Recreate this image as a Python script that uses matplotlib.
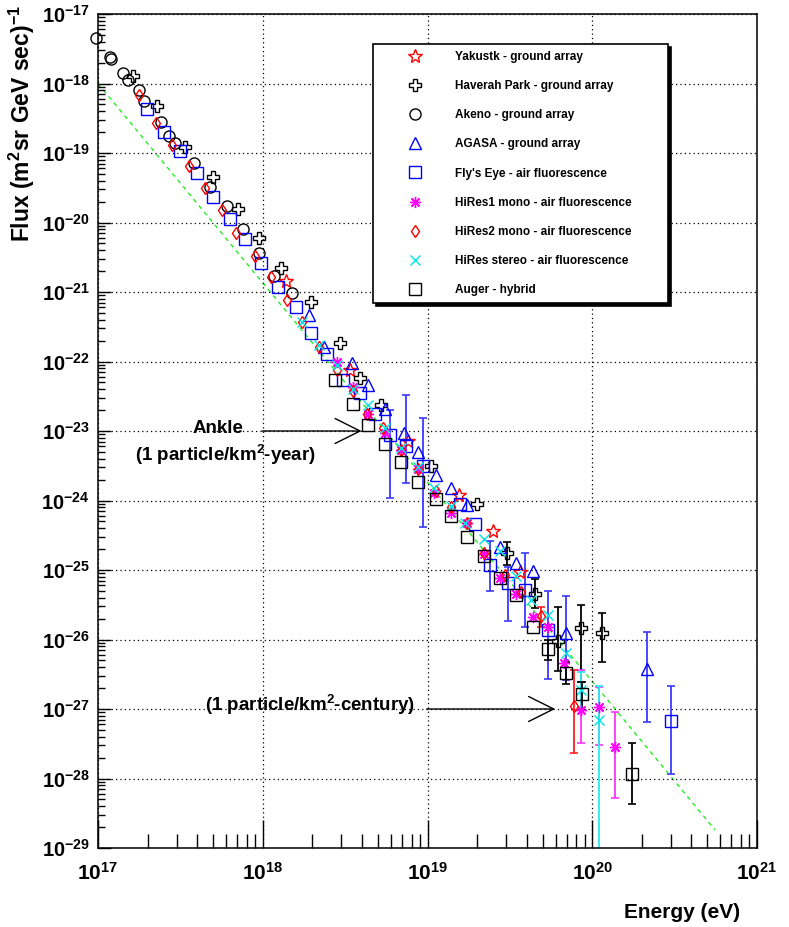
import numpy as np
import matplotlib
matplotlib.use("Agg")
import matplotlib.pyplot as plt
from matplotlib.ticker import LogLocator, NullFormatter, LogFormatterSciNotation

plt.rcParams['font.family'] = ['Liberation Sans', 'DejaVu Sans']
plt.rcParams['font.weight'] = 'bold'
plt.rcParams['mathtext.fontset'] = 'custom'
plt.rcParams['mathtext.bf'] = 'Liberation Sans:bold'
plt.rcParams['mathtext.rm'] = 'Liberation Sans:bold'
plt.rcParams['mathtext.default'] = 'bf'

# values, log10(E / eV) and log10(flux)
yakutsk_logE = [18.14, 18.53, 18.88, 19.19, 19.40, 19.56]
yakutsk_logF = [-20.84, -22.12, -23.14, -23.92, -24.44, -25.03]

haverah_logE = [17.21, 17.36, 17.53, 17.70, 17.85, 17.98, 18.11, 18.29, 18.47, 18.59,
                18.72, 19.02, 19.30, 19.48, 19.65, 19.79, 19.93, 20.06]
haverah_logF = [-17.89, -18.32, -18.91, -19.34, -19.81, -20.22, -20.66, -21.14, -21.74, -22.24,
                -22.63, -23.50, -24.05, -24.75, -25.34, -26.02, -25.84, -25.91]
haverah_hi = [None] * 13 + [-24.59, -25.13, -25.53, -25.50, -25.62]
haverah_lo = [None] * 13 + [-24.93, -25.55, -26.46, -26.61, -26.33]

akeno_logE = [16.99, 17.07, 17.08, 17.15, 17.18, 17.25, 17.28, 17.38, 17.43, 17.47,
              17.58, 17.68, 17.78, 17.88, 17.98, 18.07, 18.18]
akeno_logF = [-17.34, -17.62, -17.65, -17.85, -17.95, -18.10, -18.25, -18.55, -18.76, -18.85,
              -19.14, -19.49, -19.76, -20.09, -20.44, -20.77, -21.02]

agasa_logE = [18.28, 18.37, 18.54, 18.64, 18.74, 18.86, 18.94, 19.05, 19.14, 19.24,
              19.44, 19.54, 19.64, 19.84, 20.33]
agasa_logF = [-21.33, -21.79, -22.02, -22.34, -22.69, -23.03, -23.30, -23.63, -23.82, -24.07,
              -24.67, -24.90, -25.01, -25.91, -26.43]
agasa_hi = [None] * 13 + [-25.38, -25.89]
agasa_lo = [None] * 13 + [-26.58, -27.18]

fly_logE = [17.30, 17.40, 17.50, 17.60, 17.70, 17.80, 17.89, 17.99, 18.09, 18.20,
            18.29, 18.39, 18.49, 18.59, 18.68, 18.77, 18.87, 18.97, 19.20, 19.29,
            19.38, 19.49, 19.59, 19.73, 20.48]
fly_logF = [-18.37, -18.70, -18.97, -19.29, -19.63, -19.95, -20.24, -20.58, -20.93, -21.22,
            -21.59, -21.89, -22.27, -22.46, -22.76, -23.06, -23.22, -23.50, -24.05, -24.34,
            -24.93, -25.19, -25.29, -25.86, -27.17]
fly_hi = [None] * 15 + [-22.70, -22.48, -22.81, None, None, -24.58, -24.95, -24.75, -25.30, -26.67]
fly_lo = [None] * 15 + [-23.96, -23.75, -24.38, None, None, -25.30, -25.74, -25.82, -26.57, -27.94]

hires1_logE = [18.45, 18.55, 18.64, 18.74, 18.84, 18.94, 19.04, 19.14, 19.24, 19.34,
               19.44, 19.54, 19.64, 19.73, 19.83, 19.93, 20.04, 20.14]
hires1_logF = [-22.01, -22.36, -22.75, -23.03, -23.27, -23.55, -23.89, -24.18, -24.33, -24.77,
               -25.12, -25.34, -25.67, -25.82, -26.34, -27.01, -26.97, -27.55]
hires1_hi = [None] * 15 + [-26.44, -26.68, -27.04]
hires1_lo = [None] * 15 + [-27.49, -27.52, -28.28]

hires2_logE = [17.25, 17.35, 17.45, 17.55, 17.65, 17.75, 17.84, 17.95, 18.05, 18.15,
               18.24, 18.34, 18.45, 18.55, 18.63, 18.73, 18.84, 18.94, 19.05, 19.14,
               19.24, 19.34, 19.47, 19.57, 19.69, 19.89]
hires2_logF = [-18.17, -18.57, -18.89, -19.19, -19.51, -19.82, -20.15, -20.48, -20.79, -21.12,
               -21.43, -21.79, -22.12, -22.43, -22.75, -22.96, -23.27, -23.55, -23.87, -24.10,
               -24.33, -24.76, -25.07, -25.32, -25.66, -26.96]
hires2_hi = [None] * 24 + [-25.53, -26.44]
hires2_lo = [None] * 24 + [-25.82, -27.64]

stereo_logE = [18.24, 18.34, 18.45, 18.55, 18.64, 18.74, 18.84, 18.94, 19.04, 19.14,
               19.23, 19.34, 19.44, 19.54, 19.63, 19.73, 19.84, 19.93, 20.04]
stereo_logF = [-21.43, -21.76, -22.05, -22.39, -22.63, -22.96, -23.25, -23.52, -23.82, -24.08,
               -24.32, -24.56, -24.73, -25.09, -25.43, -25.65, -26.19, -26.73, -27.16]
stereo_hi = [None] * 17 + [-26.47, -26.67]
stereo_lo = [None] * 17 + [-27.01, -31.0]

auger_logE = [18.44, 18.55, 18.64, 18.74, 18.84, 18.94, 19.05, 19.14, 19.24, 19.34,
              19.44, 19.54, 19.64, 19.73, 19.84, 19.94, 20.24]
auger_logF = [-22.27, -22.61, -22.91, -23.18, -23.44, -23.73, -23.98, -24.22, -24.52, -24.80,
              -25.12, -25.36, -25.82, -26.14, -26.48, -26.78, -27.94]
auger_hi = [None] * 13 + [-26.01, -26.32, -26.61, -27.49]
auger_lo = [None] * 13 + [-26.29, -26.64, -27.01, -28.36]

# dashed reference line end points
ref_logE = [17.0, 20.745]
ref_logF = [-18.0, -28.74]


def draw_errors(ax, logE, logF, hi, lo, color):
    hi = np.array(hi, dtype=float)
    lo = np.array(lo, dtype=float)
    m = ~np.isnan(hi)
    E = 10 ** np.array(logE)[m]
    F = 10 ** np.array(logF)[m]
    yerr = [F - 10 ** lo[m], 10 ** hi[m] - F]
    ax.errorbar(E, F, yerr=yerr, fmt='none', ecolor=color, elinewidth=1.3,
                capsize=3, capthick=1.2, zorder=2)


fig = plt.figure(figsize=(7.89, 9.27), dpi=100)
ax = fig.add_axes([98 / 789, 1 - 848 / 927, 659 / 789, 834 / 927])

ax.plot(10 ** np.array(ref_logE), 10 ** np.array(ref_logF), color='#22ee22',
        linestyle=(0, (3, 3)), linewidth=1.0, zorder=1)

draw_errors(ax, haverah_logE, haverah_logF, haverah_hi, haverah_lo, 'black')
draw_errors(ax, agasa_logE, agasa_logF, agasa_hi, agasa_lo, '#3a3aff')
draw_errors(ax, fly_logE, fly_logF, fly_hi, fly_lo, '#3a3aff')
draw_errors(ax, hires1_logE, hires1_logF, hires1_hi, hires1_lo, '#ff33ff')
draw_errors(ax, hires2_logE, hires2_logF, hires2_hi, hires2_lo, '#ff2020')
draw_errors(ax, stereo_logE, stereo_logF, stereo_hi, stereo_lo, '#22eeee')
draw_errors(ax, auger_logE, auger_logF, auger_hi, auger_lo, 'black')

series = [
    ("Yakustk - ground array", yakutsk_logE, yakutsk_logF, 'red', '*', 10),
    ("Haverah Park - ground array", haverah_logE, haverah_logF, 'black', 'P', 9),
    ("Akeno - ground array", akeno_logE, akeno_logF, 'black', 'o', 8),
    ("AGASA - ground array", agasa_logE, agasa_logF, 'blue', '^', 9),
    ("Fly's Eye - air fluorescence", fly_logE, fly_logF, 'blue', 's', 9),
    ("HiRes1 mono - air fluorescence", hires1_logE, hires1_logF, '#ff00ff', (8, 2, 0), 8),
    ("HiRes2 mono - air fluorescence", hires2_logE, hires2_logF, 'red', 'd', 6.5),
    ("HiRes stereo - air fluorescence", stereo_logE, stereo_logF, '#00e5e5', 'x', 7),
    ("Auger - hybrid", auger_logE, auger_logF, 'black', 's', 9),
]
handles = []
for label, lE, lF, col, mk, ms in series:
    h, = ax.plot(10 ** np.array(lE), 10 ** np.array(lF), linestyle='none', marker=mk,
                 markersize=ms, markerfacecolor='none', markeredgecolor=col,
                 markeredgewidth=1.0, label=label, zorder=3, clip_on=False)
    handles.append(h)

ax.set_xscale('log')
ax.set_yscale('log')
ax.set_xlim(1e17, 1e21)
ax.set_ylim(1e-29, 1e-17)

ax.xaxis.set_major_locator(LogLocator(base=10, numticks=20))
ax.yaxis.set_major_locator(LogLocator(base=10, numticks=30))
ax.xaxis.set_minor_locator(LogLocator(base=10, subs=np.arange(2, 10), numticks=100))
ax.yaxis.set_minor_locator(LogLocator(base=10, subs=np.arange(2, 10), numticks=200))
ax.xaxis.set_minor_formatter(NullFormatter())
ax.yaxis.set_minor_formatter(NullFormatter())
ax.xaxis.set_major_formatter(LogFormatterSciNotation())
ax.yaxis.set_major_formatter(LogFormatterSciNotation())

ax.tick_params(axis='x', which='major', direction='in', length=20, width=1, labelsize=15, pad=10)
ax.tick_params(axis='x', which='minor', direction='in', length=10, width=1)
ax.tick_params(axis='y', which='major', direction='in', length=9, width=1, labelsize=14.5, pad=6)
ax.tick_params(axis='y', which='minor', direction='in', length=5, width=1)
ax.grid(True, which='major', linestyle=(0, (1, 2.5)), color='black', linewidth=0.9)
for s in ax.spines.values():
    s.set_linewidth(1.1)

leg = ax.legend(handles=handles, loc='upper left', bbox_to_anchor=(0.4173, 0.6511, 0.4477, 0.3129),
                mode='expand', borderaxespad=0, fontsize=8.5, frameon=True, fancybox=False,
                edgecolor='black', borderpad=0.6, handlelength=5.9, handletextpad=0.45,
                labelspacing=1.45, numpoints=1, shadow={'color': 'black', 'alpha': 1.0},
                framealpha=1)
leg.get_frame().set_linewidth(1.2)
for t in leg.get_texts():
    t.set_fontweight('bold')

# annotations
ax.annotate('', xy=(10 ** 18.6, 1e-23), xytext=(10 ** 17.995, 1e-23),
            arrowprops=dict(arrowstyle='->, head_length=0.9, head_width=0.45',
                            color='black', lw=1.0, shrinkA=0, shrinkB=0, mutation_scale=20))
ax.annotate('', xy=(10 ** 19.775, 1e-27), xytext=(10 ** 18.995, 1e-27),
            arrowprops=dict(arrowstyle='->, head_length=0.9, head_width=0.45',
                            color='black', lw=1.0, shrinkA=0, shrinkB=0, mutation_scale=20))
ax.text(10 ** 17.728, 10 ** -22.957, 'Ankle', fontsize=13.5, fontweight='bold',
        ha='center', va='center')
ax.text(10 ** 17.771, 10 ** -23.345, r'(1 particle/km$^{2}$-year)', fontsize=13.5,
        fontweight='bold', ha='center', va='center')
ax.text(10 ** 18.287, 10 ** -26.94, r'(1 particle/km$^{2}$-century)', fontsize=13.5,
        fontweight='bold', ha='center', va='center')

fig.text(0.028, 0.995, r'Flux (m$^{2}$sr GeV sec)$^{-1}$', rotation=90, ha='center', va='top',
         fontsize=16.5, fontweight='bold')
fig.text(740 / 789, 1 - 912 / 927, 'Energy (eV)', ha='right', va='center',
         fontsize=15, fontweight='bold')

fig.savefig('out.png', dpi=100, facecolor='white')
